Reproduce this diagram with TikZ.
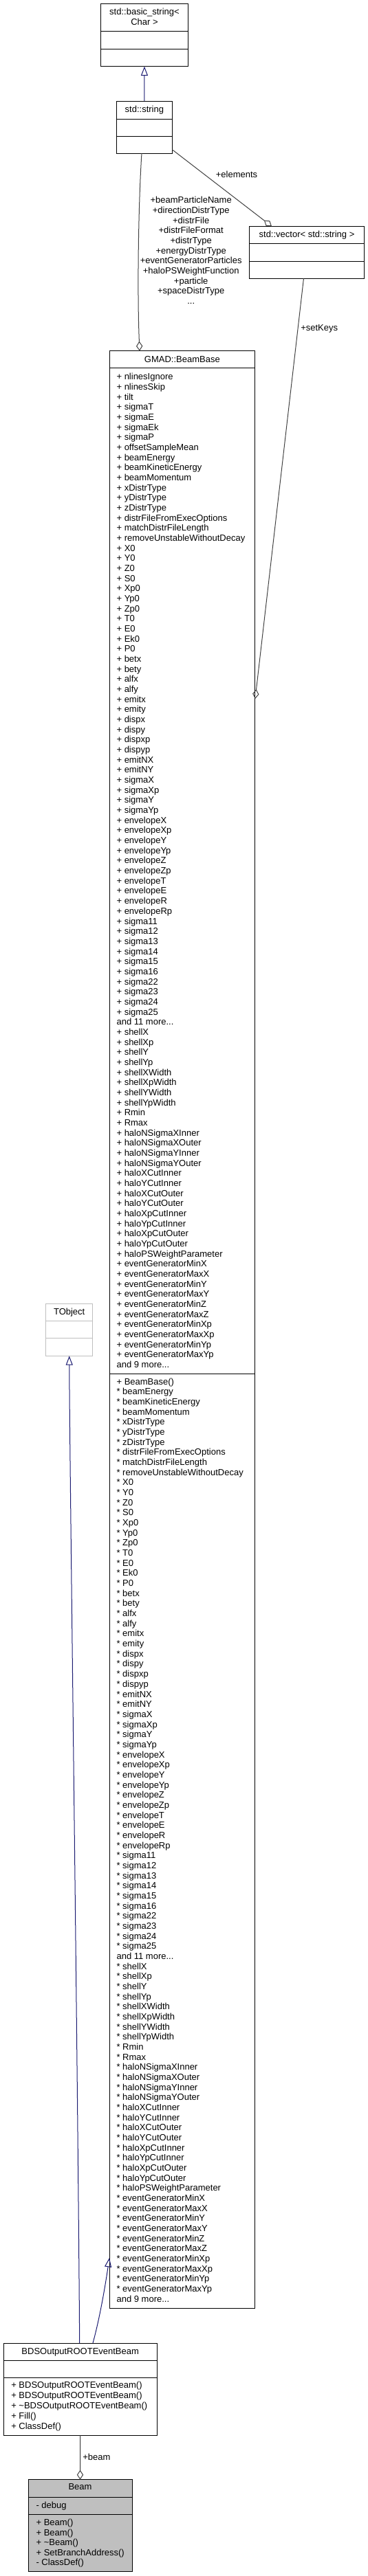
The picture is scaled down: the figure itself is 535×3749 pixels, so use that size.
\documentclass[tikz,border=0pt]{standalone}
\usepackage{fontspec}
\setmainfont{Liberation Sans}
\usetikzlibrary{arrows.meta,fit}
\definecolor{inhblue}{HTML}{191970}
\definecolor{edgegray}{HTML}{404040}
\definecolor{extgray}{HTML}{BFBFBF}
\begin{document}
\begin{tikzpicture}[x=0.75pt,y=-0.75pt,
  font=\fontsize{9.75pt}{11pt}\selectfont,
  box/.style={rectangle,draw=black,line width=0.75pt,inner sep=0pt,outer sep=0pt,fill=white},
  extbox/.style={box,draw=extgray},
  hibox/.style={box,fill=extgray},
  txt/.style={anchor=base west,inner sep=0pt},
  ctxt/.style={anchor=base,inner sep=0pt},
  sepline/.style={line width=0.75pt,draw=black},
  extsep/.style={line width=0.75pt,draw=extgray},
  inh/.style={draw=inhblue,line width=0.75pt,-{Triangle[open,length=10pt,width=7.5pt]}},
  agg/.style={draw=edgegray,line width=0.75pt,-{Diamond[open,length=10.5pt,width=7pt]}},
  elbl/.style={inner sep=0pt,align=center}]
\useasboundingbox (0,0) rectangle (535,3749);

% ---------- std::basic_string< Char >
\node[box,fit={(146.7,5.7) (273.3,96.7)}] (bstr) {};
\draw[sepline] (146.7,45.7) -- (273.3,45.7);
\draw[sepline] (146.7,71) -- (273.3,71);
\node[ctxt] (bstrt1) at (210,21.8) {std::basic\_string<};
\node[ctxt] (bstrt2) at (210,36.2) {Char >};

% ---------- std::string
\node[box,fit={(169.7,147) (250,223)}] (str) {};
\draw[sepline] (169.7,173) -- (250,173);
\draw[sepline] (169.7,198) -- (250,198);
\node[ctxt] (strt) at (209.9,163.5) {std::string};

% ---------- std::vector< std::string >
\node[box,fit={(362.7,329.3) (529.3,405)}] (vec) {};
\draw[sepline] (362.7,354.3) -- (529.3,354.3);
\draw[sepline] (362.7,380) -- (529.3,380);
\node[ctxt] (vect) at (446,345.2) {std::vector< std::string >};

% ---------- TObject
\node[extbox,fit={(66.7,1897.3) (134.7,1973.3)}] (tobj) {};
\draw[extsep] (66.7,1922.3) -- (134.7,1922.3);
\draw[extsep] (66.7,1947.7) -- (134.7,1947.7);
\node[ctxt] (tobjt) at (100.7,1913.5) {TObject};

% ---------- GMAD::BeamBase
\node[box,fit={(159,510.7) (370.7,3359)}] (bb) {};
\draw[sepline] (159,535.7) -- (370.7,535.7);
\draw[sepline] (159,1999.3) -- (370.7,1999.3);
\node[ctxt] (bbt) at (264.9,527.7) {GMAD::BeamBase};
\foreach \t [count=\i from 0] in {
 + nlinesIgnore, + nlinesSkip, + tilt, + sigmaT, + sigmaE, + sigmaEk, + sigmaP,
 + offsetSampleMean, + beamEnergy, + beamKineticEnergy, + beamMomentum,
 + xDistrType, + yDistrType, + zDistrType, + distrFileFromExecOptions,
 + matchDistrFileLength, + removeUnstableWithoutDecay, + X0, + Y0, + Z0, + S0,
 + Xp0, + Yp0, + Zp0, + T0, + E0, + Ek0, + P0, + betx, + bety, + alfx, + alfy,
 + emitx, + emity, + dispx, + dispy, + dispxp, + dispyp, + emitNX, + emitNY,
 + sigmaX, + sigmaXp, + sigmaY, + sigmaYp, + envelopeX, + envelopeXp,
 + envelopeY, + envelopeYp, + envelopeZ, + envelopeZp, + envelopeT, + envelopeE,
 + envelopeR, + envelopeRp, + sigma11, + sigma12, + sigma13, + sigma14,
 + sigma15, + sigma16, + sigma22, + sigma23, + sigma24, + sigma25,
 and 11 more.{}.{}., + shellX, + shellXp, + shellY, + shellYp, + shellXWidth,
 + shellXpWidth, + shellYWidth, + shellYpWidth, + Rmin, + Rmax,
 + haloNSigmaXInner, + haloNSigmaXOuter, + haloNSigmaYInner, + haloNSigmaYOuter,
 + haloXCutInner, + haloYCutInner, + haloXCutOuter, + haloYCutOuter,
 + haloXpCutInner, + haloYpCutInner, + haloXpCutOuter, + haloYpCutOuter,
 + haloPSWeightParameter, + eventGeneratorMinX, + eventGeneratorMaxX,
 + eventGeneratorMinY, + eventGeneratorMaxY, + eventGeneratorMinZ,
 + eventGeneratorMaxZ, + eventGeneratorMinXp, + eventGeneratorMaxXp,
 + eventGeneratorMinYp, + eventGeneratorMaxYp, and 9 more.{}.{}.}
  \node[txt] (bba\i) at (169.3,{552.8+\i*14.67}) {\t};
\foreach \t [count=\i from 0] in {
 + BeamBase(), * beamEnergy, * beamKineticEnergy, * beamMomentum,
 * xDistrType, * yDistrType, * zDistrType, * distrFileFromExecOptions,
 * matchDistrFileLength, * removeUnstableWithoutDecay, * X0, * Y0, * Z0, * S0,
 * Xp0, * Yp0, * Zp0, * T0, * E0, * Ek0, * P0, * betx, * bety, * alfx, * alfy,
 * emitx, * emity, * dispx, * dispy, * dispxp, * dispyp, * emitNX, * emitNY,
 * sigmaX, * sigmaXp, * sigmaY, * sigmaYp, * envelopeX, * envelopeXp,
 * envelopeY, * envelopeYp, * envelopeZ, * envelopeZp, * envelopeT, * envelopeE,
 * envelopeR, * envelopeRp, * sigma11, * sigma12, * sigma13, * sigma14,
 * sigma15, * sigma16, * sigma22, * sigma23, * sigma24, * sigma25,
 and 11 more.{}.{}., * shellX, * shellXp, * shellY, * shellYp, * shellXWidth,
 * shellXpWidth, * shellYWidth, * shellYpWidth, * Rmin, * Rmax,
 * haloNSigmaXInner, * haloNSigmaXOuter, * haloNSigmaYInner, * haloNSigmaYOuter,
 * haloXCutInner, * haloYCutInner, * haloXCutOuter, * haloYCutOuter,
 * haloXpCutInner, * haloYpCutInner, * haloXpCutOuter, * haloYpCutOuter,
 * haloPSWeightParameter, * eventGeneratorMinX, * eventGeneratorMaxX,
 * eventGeneratorMinY, * eventGeneratorMaxY, * eventGeneratorMinZ,
 * eventGeneratorMaxZ, * eventGeneratorMinXp, * eventGeneratorMaxXp,
 * eventGeneratorMinYp, * eventGeneratorMaxYp, and 9 more.{}.{}.}
  \node[txt] (bbm\i) at (169.3,{2015.2+\i*14.67}) {\t};

% ---------- BDSOutputROOTEventBeam
\node[box,fit={(5,3410) (228.3,3544.3)}] (bds) {};
\draw[sepline] (5,3435) -- (228.3,3435);
\draw[sepline] (5,3460.3) -- (228.3,3460.3);
\node[ctxt] (bdst) at (116.7,3426.2) {BDSOutputROOTEventBeam};
\foreach \t [count=\i from 0] in {
 + BDSOutputROOTEventBeam(), + BDSOutputROOTEventBeam(),
 + \textasciitilde BDSOutputROOTEventBeam(), + Fill(), + ClassDef()}
  \node[txt] (bdsm\i) at (16,{3475.5+\i*15}) {\t};

% ---------- Beam
\node[hibox,fit={(41,3608.7) (192,3742.7)}] (beam) {};
\draw[sepline] (41,3634) -- (192,3634);
\draw[sepline] (41,3659.3) -- (192,3659.3);
\node[ctxt] (beamt) at (116.5,3623.8) {Beam};
\node[txt] (beama0) at (52.3,3650.2) {- debug};
\foreach \t [count=\i from 0] in {
 + Beam(), + Beam(), + \textasciitilde Beam(), + SetBranchAddress(), - ClassDef()}
  \node[txt] (beamm\i) at (52.3,{3675.5+\i*14.6}) {\t};

% ---------- connector end points on the borders
\coordinate (strE) at (250.3,217.7);
\coordinate (vecN) at (395,329.3);
\coordinate (strS) at (206,223);
\coordinate (bbN) at (203,510.7);
\coordinate (vecS) at (441.5,405);
\coordinate (bbE) at (371,1017);
\coordinate (bdsN1) at (115.7,3410);
\coordinate (bdsN2) at (135,3410);
\coordinate (bbW) at (159,3286);

% ---------- connectors
\draw[inh] (str.north) -- (bstr.south);
\draw[agg] (strE) -- (vecN);
\draw[agg] (strS) .. controls (201,300) and (199.5,430) .. (bbN);
\draw[agg] (vecS) -- (bbE);
\draw[inh] (bdsN1) .. controls (113,3000) and (101.5,2150) .. (tobj.south);
\draw[inh] (bdsN2) .. controls (146,3370) and (154,3320) .. (bbW);
\draw[agg] (bds.south) -- (beam.north);

% ---------- connector labels
\node[elbl] (lelem) at (344,254) {+elements};
\node[elbl,anchor=north] (lstr) at (277.7,286) {+beamParticleName\\
 +directionDistrType\\ +distrFile\\ +distrFileFormat\\
 +distrType\\ +energyDistrType\\ +eventGeneratorParticles\\
 +haloPSWeightFunction\\ +particle\\ +spaceDistrType\\ .{}.{}.};
\node[elbl,anchor=west] (lkeys) at (437,478) {+setKeys};
\node[elbl,anchor=west] (lbeam) at (120,3576) {+beam};
\end{tikzpicture}
\end{document}
